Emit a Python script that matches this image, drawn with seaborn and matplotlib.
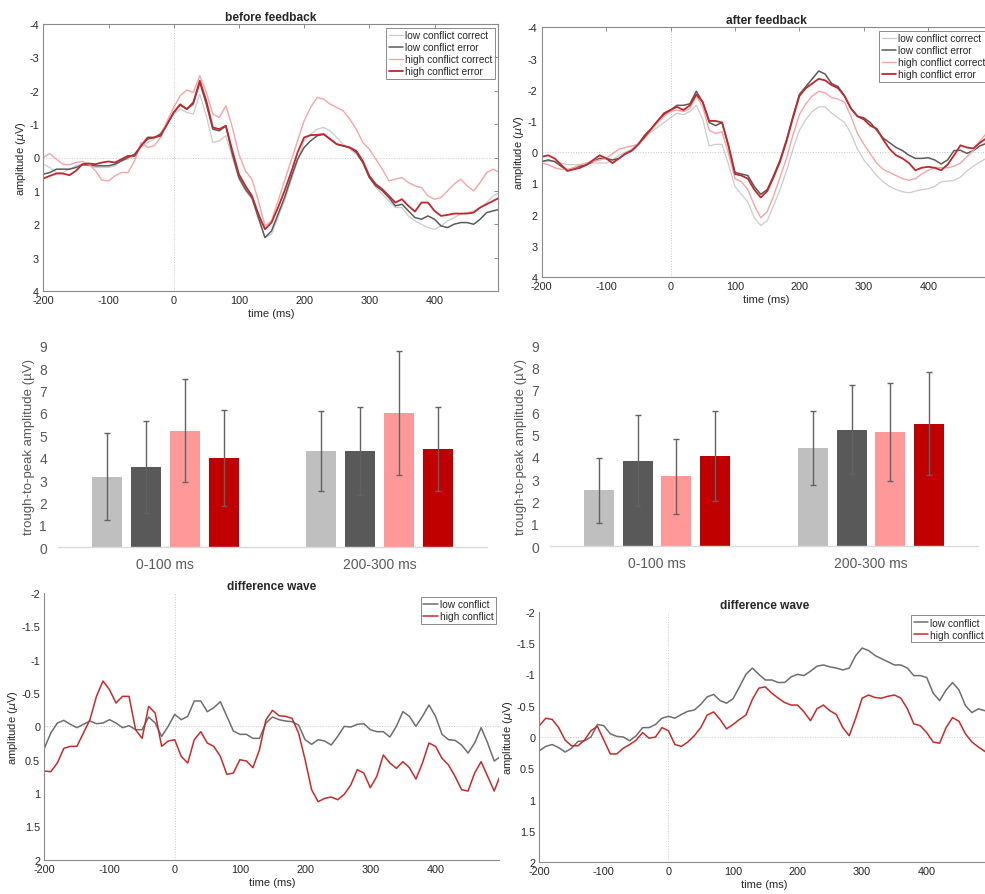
"""
plot.py — ERP figure: before / after feedback waveforms, trough-to-peak bars,
and conflict difference waves. Saves out.png.
"""

import numpy as np
import pandas as pd
import matplotlib
matplotlib.use("Agg")
import matplotlib.pyplot as plt
from matplotlib.ticker import FuncFormatter
import seaborn as sns


# ── Data ───────────────────────────────────────────────────────────────────────
TIME = np.arange(-200, 501, 10)  # ms

# before feedback (µV, positive plotted downward)
BEFORE_LCC = [0.2, 0.3, 0.45, 0.45, 0.35, 0.25, 0.2, 0.25, 0.3, 0.3,
              0.3, 0.25, 0.1, 0.05, -0.05, -0.3, -0.45, -0.55, -0.75, -1.05,
              -1.3, -1.45, -1.35, -1.3, -1.9, -1.25, -0.45, -0.5, -0.65, 0.0,
              0.65, 1.0, 1.25, 1.85, 2.4, 2.3, 1.8, 1.3, 0.7, 0.1,
              -0.5, -0.7, -0.85, -0.9, -0.8, -0.6, -0.4, -0.25, -0.1, 0.15,
              0.6, 0.9, 1.1, 1.3, 1.5, 1.5, 1.75, 1.9, 2.0, 2.1,
              2.15, 2.05, 1.9, 1.8, 1.7, 1.65, 1.6, 1.5, 1.35, 1.15,
              1.05]
BEFORE_LCE = [0.5, 0.45, 0.35, 0.35, 0.35, 0.3, 0.22, 0.22, 0.25, 0.25,
              0.25, 0.2, 0.1, 0.0, -0.1, -0.35, -0.55, -0.6, -0.7, -1.0,
              -1.35, -1.6, -1.45, -1.6, -2.25, -1.6, -0.85, -0.8, -0.95, -0.1,
              0.6, 0.95, 1.2, 1.8, 2.4, 2.2, 1.7, 1.2, 0.6, 0.05,
              -0.3, -0.5, -0.65, -0.7, -0.55, -0.4, -0.35, -0.3, -0.15, 0.15,
              0.6, 0.85, 1.0, 1.2, 1.45, 1.4, 1.6, 1.8, 1.85, 1.75,
              1.85, 2.05, 2.1, 2.0, 1.95, 1.95, 2.0, 1.85, 1.65, 1.6,
              1.55]
BEFORE_HCC = [0.0, -0.12, 0.05, 0.2, 0.22, 0.15, 0.12, 0.2, 0.4, 0.68,
              0.7, 0.55, 0.45, 0.45, 0.1, -0.45, -0.3, -0.35, -0.6, -1.1,
              -1.5, -1.85, -2.02, -1.95, -2.45, -1.95, -1.3, -1.2, -1.55, -0.9,
              -0.1, 0.4, 0.65, 1.3, 2.05, 1.9, 1.3, 0.7, 0.1, -0.5,
              -1.1, -1.5, -1.8, -1.75, -1.6, -1.5, -1.4, -1.15, -0.85, -0.45,
              -0.25, 0.05, 0.35, 0.7, 0.65, 0.6, 0.75, 0.85, 0.9, 1.15,
              1.25, 1.2, 1.0, 0.8, 0.65, 0.85, 1.0, 0.75, 0.45, 0.35,
              0.45]
BEFORE_HCE = [0.63, 0.55, 0.48, 0.48, 0.53, 0.4, 0.2, 0.18, 0.2, 0.15,
              0.12, 0.15, 0.05, -0.05, -0.05, -0.35, -0.6, -0.6, -0.65, -1.0,
              -1.35, -1.58, -1.45, -1.65, -2.3, -1.7, -0.9, -0.85, -0.95, -0.2,
              0.5, 0.85, 1.15, 1.7, 2.15, 1.95, 1.5, 1.0, 0.45, -0.15,
              -0.6, -0.67, -0.68, -0.7, -0.55, -0.4, -0.35, -0.3, -0.2, 0.1,
              0.55, 0.8, 0.95, 1.15, 1.35, 1.25, 1.45, 1.62, 1.35, 1.35,
              1.6, 1.75, 1.72, 1.68, 1.68, 1.68, 1.65, 1.5, 1.4, 1.3,
              1.2]

# after feedback
AFTER_LCC = [0.3, 0.3, 0.3, 0.35, 0.4, 0.4, 0.4, 0.35, 0.35, 0.35,
             0.35, 0.25, 0.1, 0.0, -0.1, -0.3, -0.5, -0.65, -0.8, -0.95,
             -1.1, -1.25, -1.2, -1.3, -1.5, -1.05, -0.2, -0.25, -0.25, 0.4,
             1.1, 1.35, 1.6, 2.1, 2.35, 2.2, 1.7, 1.2, 0.6, -0.1,
             -0.7, -1.05, -1.3, -1.45, -1.45, -1.25, -1.1, -0.95, -0.6, -0.1,
             0.25, 0.5, 0.75, 0.95, 1.1, 1.2, 1.27, 1.3, 1.25, 1.2,
             1.17, 1.1, 0.95, 0.93, 0.9, 0.8, 0.6, 0.45, 0.32, 0.2,
             0.1]
AFTER_LCE = [0.3, 0.25, 0.3, 0.45, 0.6, 0.5, 0.45, 0.4, 0.3, 0.2,
             0.2, 0.25, 0.2, 0.05, -0.05, -0.25, -0.55, -0.75, -1.0, -1.2,
             -1.35, -1.5, -1.5, -1.55, -1.95, -1.6, -0.95, -0.85, -0.95, -0.2,
             0.65, 0.7, 0.75, 1.1, 1.35, 1.2, 0.75, 0.25, -0.4, -1.15,
             -1.85, -2.1, -2.35, -2.6, -2.5, -2.2, -2.1, -1.8, -1.4, -1.15,
             -1.1, -0.95, -0.7, -0.45, -0.3, -0.15, -0.05, 0.1, 0.2, 0.2,
             0.18, 0.25, 0.38, 0.25, -0.05, -0.06, 0.04, -0.05, -0.2, -0.28,
             -0.35]
AFTER_HCC = [0.35, 0.4, 0.5, 0.55, 0.55, 0.5, 0.4, 0.35, 0.3, 0.25,
             0.2, 0.05, -0.1, -0.15, -0.2, -0.25, -0.45, -0.7, -0.95, -1.15,
             -1.3, -1.35, -1.3, -1.4, -1.8, -1.45, -0.7, -0.6, -0.65, 0.05,
             0.85, 0.95, 1.2, 1.7, 2.1, 1.9, 1.4, 0.8, 0.2, -0.55,
             -1.2, -1.55, -1.8, -1.95, -1.9, -1.75, -1.7, -1.6, -1.15, -0.6,
             -0.25, 0.05, 0.35, 0.55, 0.65, 0.75, 0.85, 0.9, 0.85, 0.7,
             0.58, 0.5, 0.5, 0.5, 0.45, 0.35, 0.15, -0.05, -0.35, -0.6,
             -0.75]
AFTER_HCE = [0.15, 0.1, 0.2, 0.4, 0.6, 0.55, 0.5, 0.4, 0.25, 0.1,
             0.2, 0.35, 0.2, 0.05, -0.05, -0.25, -0.5, -0.75, -1.0, -1.25,
             -1.35, -1.45, -1.35, -1.5, -1.85, -1.6, -1.0, -1.0, -0.95, -0.2,
             0.7, 0.75, 0.85, 1.2, 1.45, 1.25, 0.8, 0.3, -0.35, -1.1,
             -1.8, -2.05, -2.2, -2.35, -2.3, -2.15, -2.05, -1.8, -1.4, -1.15,
             -1.05, -0.85, -0.75, -0.4, -0.1, 0.1, 0.2, 0.35, 0.58, 0.5,
             0.47, 0.5, 0.58, 0.4, 0.1, -0.22, -0.15, -0.12, -0.3, -0.44,
             -0.55]

# difference waves (error - correct)
DIFF_BEFORE_LOW = [0.33, 0.1, -0.05, -0.09, -0.03, 0.02, -0.03, -0.08, -0.04, -0.05,
                   -0.1, -0.05, 0.02, -0.01, 0.05, 0.05, -0.14, -0.05, 0.15, 0.0,
                   -0.18, -0.1, -0.15, -0.38, -0.38, -0.22, -0.28, -0.37, -0.15, 0.07,
                   0.12, 0.12, 0.18, 0.18, -0.05, -0.14, -0.1, -0.08, -0.07, -0.02,
                   0.2, 0.27, 0.2, 0.22, 0.28, 0.15, 0.0, 0.01, -0.03, -0.04,
                   0.05, 0.08, 0.08, 0.16, 0.0, -0.22, -0.15, 0.0, -0.15, -0.32,
                   -0.15, 0.12, 0.2, 0.21, 0.28, 0.4, 0.25, 0.02, 0.25, 0.52,
                   0.45]
DIFF_BEFORE_HIGH = [0.67, 0.68, 0.55, 0.33, 0.3, 0.3, 0.1, -0.1, -0.45, -0.68,
                    -0.55, -0.35, -0.45, -0.45, 0.05, 0.18, -0.3, -0.2, 0.3, 0.22,
                    0.2, 0.45, 0.55, 0.2, 0.08, 0.25, 0.3, 0.45, 0.72, 0.7,
                    0.5, 0.52, 0.62, 0.35, -0.1, -0.24, -0.16, -0.15, -0.12, 0.1,
                    0.5, 0.95, 1.13, 1.08, 1.06, 1.1, 1.02, 0.88, 0.65, 0.7,
                    0.92, 0.75, 0.43, 0.55, 0.63, 0.53, 0.62, 0.79, 0.55, 0.25,
                    0.3, 0.48, 0.58, 0.75, 0.95, 0.97, 0.7, 0.53, 0.75, 0.97,
                    0.72]
DIFF_AFTER_LOW = [0.22, 0.15, 0.12, 0.17, 0.24, 0.18, 0.07, 0.06, 0.0, -0.2,
                  -0.18, -0.05, -0.01, 0.0, 0.06, -0.02, -0.15, -0.15, -0.2, -0.3,
                  -0.33, -0.3, -0.36, -0.41, -0.43, -0.52, -0.64, -0.68, -0.58, -0.54,
                  -0.61, -0.8, -1.0, -1.1, -1.0, -0.91, -0.91, -0.87, -0.87, -0.96,
                  -1.0, -0.98, -1.05, -1.13, -1.15, -1.12, -1.1, -1.07, -1.1, -1.3,
                  -1.42, -1.38, -1.3, -1.25, -1.2, -1.15, -1.15, -1.1, -0.98, -0.98,
                  -0.95, -0.7, -0.58, -0.75, -0.87, -0.75, -0.5, -0.39, -0.45, -0.42,
                  -0.42]
DIFF_AFTER_HIGH = [-0.18, -0.3, -0.28, -0.15, 0.05, 0.14, 0.14, 0.05, -0.1, -0.17,
                   0.05, 0.27, 0.27, 0.18, 0.12, 0.05, -0.07, 0.02, 0.0, -0.15,
                   -0.1, 0.12, 0.15, 0.08, -0.02, -0.15, -0.35, -0.4, -0.28, -0.13,
                   -0.2, -0.28, -0.35, -0.6, -0.78, -0.8, -0.7, -0.62, -0.55, -0.51,
                   -0.51, -0.4, -0.26, -0.45, -0.51, -0.42, -0.36, -0.15, -0.02, -0.3,
                   -0.62, -0.67, -0.63, -0.62, -0.65, -0.67, -0.62, -0.45, -0.21, -0.18,
                   -0.07, 0.08, 0.1, -0.15, -0.31, -0.25, -0.05, 0.08, 0.16, 0.23,
                   0.28]

# trough-to-peak amplitudes (mean, SD), order = CONDITIONS
WINDOWS = ["0-100 ms", "200-300 ms"]
CONDITIONS = ["low conflict correct", "low conflict error",
              "high conflict correct", "high conflict error"]
BEFORE_EARLY = [3.15, 3.6, 5.2, 4.0]
BEFORE_LATE = [4.3, 4.3, 6.0, 4.4]
BEFORE_EARLY_SD = [1.95, 2.05, 2.3, 2.15]
BEFORE_LATE_SD = [1.78, 1.95, 2.78, 1.87]
AFTER_EARLY = [2.5, 3.82, 3.13, 4.05]
AFTER_LATE = [4.38, 5.22, 5.1, 5.48]
AFTER_EARLY_SD = [1.44, 2.04, 1.67, 2.02]
AFTER_LATE_SD = [1.66, 1.98, 2.2, 2.31]

# ── Styles ─────────────────────────────────────────────────────────────────────
LINE_COLORS = ["#cbcbcb", "#5a5a5a", "#f4a5a5", "#c1272d"]
LINE_WIDTHS = [0.9, 1.1, 1.0, 1.3]
DIFF_COLORS = ["#6e6e6e", "#c62b2b"]
BAR_COLORS = ["#bfbfbf", "#595959", "#ff9999", "#c00000"]
SPINE = "#8a8a8a"
W_PX, H_PX = 985, 895

sns.set_style("white")
plt.rcParams["font.family"] = ["Liberation Sans", "DejaVu Sans"]
plt.rcParams["mathtext.fontset"] = "dejavusans"
plt.rcParams["lines.solid_joinstyle"] = "round"


def px_axes(fig, left, top, right, bottom):
    return fig.add_axes([left / W_PX, 1 - bottom / H_PX,
                         (right - left) / W_PX, (bottom - top) / H_PX])


def fmt_tick(v, _pos):
    return "0" if abs(v) < 1e-9 else f"{v:g}"


def style_erp(ax, ylim, ystep, box, title):
    ax.set_xlim(-200, 498)
    ax.set_ylim(ylim, -ylim)  # negative up (ERP convention)
    ax.set_xticks(np.arange(-200, 401, 100))
    ax.set_yticks(np.arange(-ylim, ylim + 1e-9, ystep))
    ax.xaxis.set_major_formatter(FuncFormatter(fmt_tick))
    ax.yaxis.set_major_formatter(FuncFormatter(fmt_tick))
    ax.axhline(0, color="#c8c8c8", ls=":", lw=0.7, zorder=0)
    ax.axvline(0, color="#c8c8c8", ls=":", lw=0.7, zorder=0)
    for side in ["top", "right"]:
        ax.spines[side].set_visible(box)
    for sp in ax.spines.values():
        sp.set_color(SPINE)
        sp.set_linewidth(0.8)
    ax.tick_params(direction="in", length=3, width=0.7, color=SPINE,
                   labelsize=7.8, labelcolor="#262626", pad=3,
                   top=box, right=box)
    ax.set_xlabel("time (ms)", fontsize=8, color="#262626", labelpad=2)
    ax.set_ylabel("amplitude ($\\mu$V)", fontsize=8, color="#262626", labelpad=1)
    ax.set_title(title, fontsize=8.6, fontweight="bold", pad=3)


def add_legend(ax):
    leg = ax.legend(loc="upper right", fontsize=7.3, frameon=True, fancybox=False,
                    edgecolor=SPINE, framealpha=1, borderpad=0.25, labelspacing=0.2,
                    handlelength=1.4, handletextpad=0.2, borderaxespad=0.35)
    leg.get_frame().set_linewidth(0.7)


def erp_panel(ax, curves, title):
    for vals, label, color, lw in zip(curves, CONDITIONS, LINE_COLORS, LINE_WIDTHS):
        sns.lineplot(x=TIME, y=vals, ax=ax, color=color, linewidth=lw,
                     label=label, errorbar=None)
    style_erp(ax, 4, 1, True, title)
    add_legend(ax)


def diff_panel(ax, low, high):
    for vals, label, color in zip([low, high], ["low conflict", "high conflict"], DIFF_COLORS):
        sns.lineplot(x=TIME, y=vals, ax=ax, color=color, linewidth=1.1,
                     label=label, errorbar=None)
    style_erp(ax, 2, 0.5, False, "difference wave")
    add_legend(ax)


def bar_panel(ax, early, late, early_sd, late_sd):
    df = pd.DataFrame({
        "window": np.repeat(WINDOWS, len(CONDITIONS)),
        "condition": CONDITIONS * 2,
        "amp": early + late,
    })
    sns.barplot(data=df, x="window", y="amp", hue="condition", hue_order=CONDITIONS,
                palette=dict(zip(CONDITIONS, BAR_COLORS)), saturation=1,
                width=0.725, gap=0.23, errorbar=None, legend=False,
                linewidth=0, ax=ax)
    bars = list(ax.containers)
    for i, cont in enumerate(bars):
        xs = [b.get_x() + b.get_width() / 2 for b in cont]
        ys = [b.get_height() for b in cont]
        ax.errorbar(xs, ys, yerr=[early_sd[i], late_sd[i]], fmt="none",
                    ecolor="#626262", elinewidth=1.0, capsize=2.2, capthick=1.0)
    ax.set_ylim(0, 9)
    ax.set_yticks(range(10))
    ax.set_xlim(-0.5, 1.5)
    for side in ["top", "right", "left"]:
        ax.spines[side].set_visible(False)
    ax.spines["bottom"].set_color("#d9d9d9")
    ax.spines["bottom"].set_linewidth(1.0)
    ax.tick_params(axis="y", length=0, labelsize=10, labelcolor="#595959", pad=8)
    ax.tick_params(axis="x", length=0, labelsize=10, labelcolor="#595959", pad=7)
    ax.set_xlabel("")
    ax.set_ylabel("trough-to-peak amplitude (µV)", fontsize=9.5, color="#595959",
                  labelpad=3)


fig = plt.figure(figsize=(W_PX / 100, H_PX / 100), dpi=100)

ax_a = px_axes(fig, 43.3, 25, 498.4, 292)
ax_b = px_axes(fig, 541.7, 28.3, 991.4, 278)
ax_c = px_axes(fig, 58, 346.7, 487, 548.3)
ax_d = px_axes(fig, 550, 346, 978, 547.3)
ax_e = px_axes(fig, 44.3, 594, 499.4, 860.7)
ax_f = px_axes(fig, 539.3, 612.7, 990, 863.3)

erp_panel(ax_a, [BEFORE_LCC, BEFORE_LCE, BEFORE_HCC, BEFORE_HCE], "before feedback")
erp_panel(ax_b, [AFTER_LCC, AFTER_LCE, AFTER_HCC, AFTER_HCE], "after feedback")
bar_panel(ax_c, BEFORE_EARLY, BEFORE_LATE, BEFORE_EARLY_SD, BEFORE_LATE_SD)
bar_panel(ax_d, AFTER_EARLY, AFTER_LATE, AFTER_EARLY_SD, AFTER_LATE_SD)
diff_panel(ax_e, DIFF_BEFORE_LOW, DIFF_BEFORE_HIGH)
diff_panel(ax_f, DIFF_AFTER_LOW, DIFF_AFTER_HIGH)

fig.savefig("out.png", dpi=100)
plt.close(fig)
